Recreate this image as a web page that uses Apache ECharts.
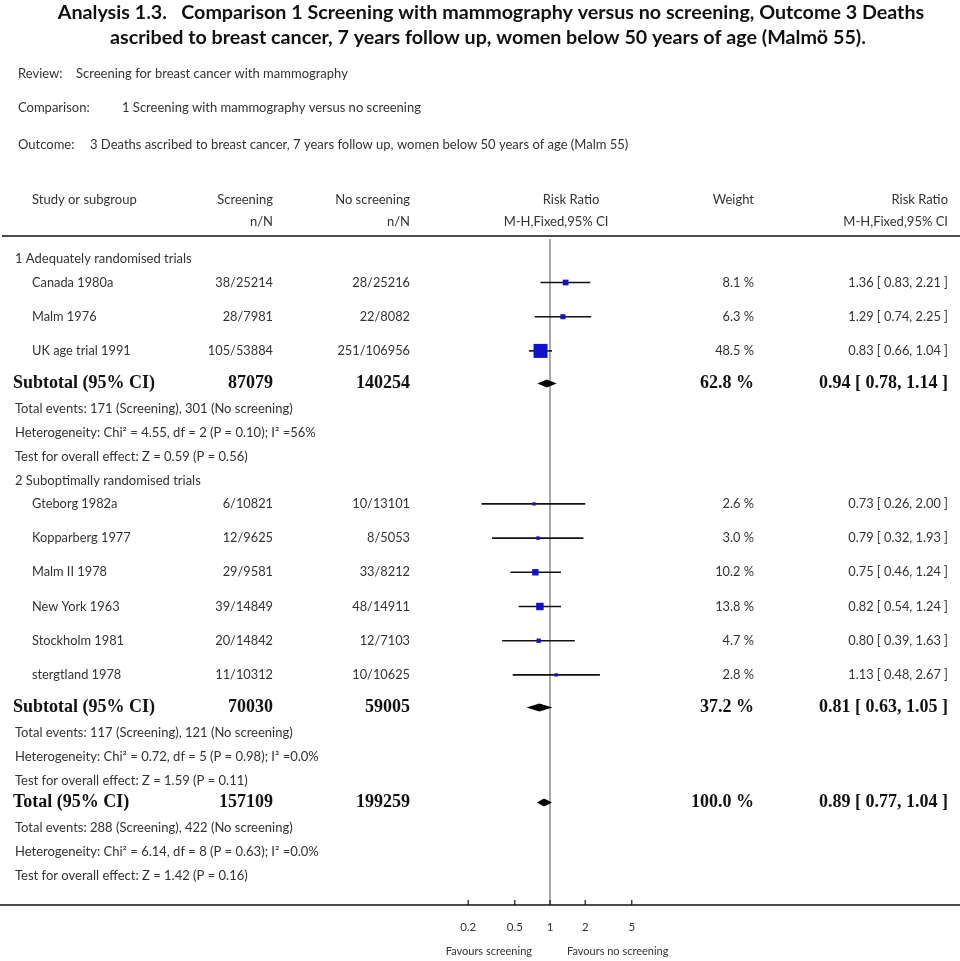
<!DOCTYPE html>
<html>
<head>
<meta charset="utf-8">
<script src="https://cdn.jsdelivr.net/npm/echarts@6/dist/echarts.min.js"></script>
<style>html,body{margin:0;padding:0;background:#fff}#c{width:960px;height:961px}</style>
</head>
<body>
<div id="c"></div>
<script>
// ---------- DATA ----------
const titleLines = [
  'Analysis 1.3.   Comparison 1 Screening with mammography versus no screening, Outcome 3 Deaths',
  'ascribed to breast cancer, 7 years follow up, women below 50 years of age (Malmö 55).'
];
const metaLabels = ['Review:', 'Comparison:', 'Outcome:'];
const metaValues = [
  'Screening for breast cancer with mammography',
  '1 Screening with mammography versus no screening',
  '3 Deaths ascribed to breast cancer, 7 years follow up, women below 50 years of age (Malm 55)'
];
const groupLabels = ['1 Adequately randomised trials', '2 Suboptimally randomised trials'];
const studyNames = ['Canada 1980a', 'Malm 1976', 'UK age trial 1991', 'Gteborg 1982a', 'Kopparberg 1977',
  'Malm II 1978', 'New York 1963', 'Stockholm 1981', 'stergtland 1978'];
const studyGroup = [0, 0, 0, 1, 1, 1, 1, 1, 1];
const scrEvents = [38, 28, 105, 6, 12, 29, 39, 20, 11];
const scrTotal = [25214, 7981, 53884, 10821, 9625, 9581, 14849, 14842, 10312];
const ctlEvents = [28, 22, 251, 10, 8, 33, 48, 12, 10];
const ctlTotal = [25216, 8082, 106956, 13101, 5053, 8212, 14911, 7103, 10625];
const weights = [8.1, 6.3, 48.5, 2.6, 3.0, 10.2, 13.8, 4.7, 2.8];
const rr = [1.36, 1.29, 0.83, 0.73, 0.79, 0.75, 0.82, 0.80, 1.13];
const rrLo = [0.83, 0.74, 0.66, 0.26, 0.32, 0.46, 0.54, 0.39, 0.48];
const rrHi = [2.21, 2.25, 1.04, 2.00, 1.93, 1.24, 1.24, 1.63, 2.67];

const subScrN = [87079, 70030];
const subCtlN = [140254, 59005];
const subWeight = [62.8, 37.2];
const subRR = [0.94, 0.81];
const subLo = [0.78, 0.63];
const subHi = [1.14, 1.05];
const subEvScr = [171, 117];
const subEvCtl = [301, 121];
const subChi2 = [4.55, 0.72];
const subDf = [2, 5];
const subP = [0.10, 0.98];
const subI2 = ['56%', '0.0%'];
const subZ = [0.59, 1.59];
const subPz = [0.56, 0.11];

const totScrN = 157109, totCtlN = 199259, totWeight = 100.0;
const totRR = 0.89, totLo = 0.77, totHi = 1.04;
const totEvScr = 288, totEvCtl = 422;
const totChi2 = 6.14, totDf = 8, totP = 0.63, totI2 = '0.0%', totZ = 1.42, totPz = 0.16;

const tickValues = [0.2, 0.5, 1, 2, 5];
const tickLabels = ['0.2', '0.5', '1', '2', '5'];
const favourLabels = ['Favours screening', 'Favours no screening'];

// ---------- LAYOUT / STYLE ----------
const F = '12.8px Lato';
const FS = '13px Lato';
const FM = '13px Lato';
const FH = '13px Lato';
const FB = 'bold 18px "Liberation Serif"';
const FT = 'bold 19.7px Lato';
const TXT = '#333';
const COL = {name: 32, grp: 15, scr: 273, ctl: 410, w: 754, rr: 948};
const AXIS_Y = 905;
const gaps = {first: 23.5, study: 34.2, sub: 32.5, ev: 25.5, het: 23.5, test: 24, grp: 24, tot: 22};

const texts = [];
function T(x, y, s, font, align, fill) {
  texts.push({type: 'text', x: x, y: y, silent: true,
    style: {text: s, font: font || F, fill: fill || TXT, align: align || 'left', verticalAlign: 'middle'}});
}
const f2 = v => v.toFixed(2);
const ci = (a, b, c) => f2(a) + ' [ ' + f2(b) + ', ' + f2(c) + ' ]';

// title + meta
T(491, 13, titleLines[0], FT, 'center', '#111');
T(488, 38, titleLines[1], FT, 'center', '#111');
const metaY = [74, 108, 145], metaX = [76, 122, 90];
metaLabels.forEach((l, i) => { T(18, metaY[i], l, FM); T(metaX[i], metaY[i], metaValues[i], FM); });

// header
T(COL.name, 200, 'Study or subgroup', FH);
T(COL.scr, 200, 'Screening', FH, 'right');
T(COL.scr, 222, 'n/N', FH, 'right');
T(COL.ctl, 200, 'No screening', FH, 'right');
T(COL.ctl, 222, 'n/N', FH, 'right');
T(571, 200, 'Risk Ratio', FH, 'center');
T(556, 222, 'M-H,Fixed,95% CI', FH, 'center');
T(COL.w, 200, 'Weight', FH, 'right');
T(COL.rr, 200, 'Risk Ratio', FH, 'right');
T(COL.rr, 222, 'M-H,Fixed,95% CI', FH, 'right');

const studyData = [];
const diamondData = [];
let y = 259;
function statRows(evS, evC, chi, df, p, i2, z, pz) {
  y += gaps.ev; T(COL.grp, y, 'Total events: ' + evS + ' (Screening), ' + evC + ' (No screening)', FS);
  y += gaps.het; T(COL.grp, y, 'Heterogeneity: Chi² = ' + f2(chi) + ', df = ' + df + ' (P = ' + f2(p) + '); I² =' + i2, FS);
  y += gaps.test; T(COL.grp, y, 'Test for overall effect: Z = ' + f2(z) + ' (P = ' + f2(pz) + ')', FS);
}
for (let g = 0; g < groupLabels.length; g++) {
  if (g > 0) y += gaps.grp;
  T(COL.grp, y, groupLabels[g], FS);
  let first = true;
  for (let i = 0; i < studyNames.length; i++) {
    if (studyGroup[i] !== g) continue;
    y += first ? gaps.first : gaps.study; first = false;
    T(COL.name, y, studyNames[i]);
    T(COL.scr, y, scrEvents[i] + '/' + scrTotal[i], F, 'right');
    T(COL.ctl, y, ctlEvents[i] + '/' + ctlTotal[i], F, 'right');
    T(COL.w, y, weights[i].toFixed(1) + ' %', F, 'right');
    T(COL.rr, y, ci(rr[i], rrLo[i], rrHi[i]), F, 'right');
    studyData.push([rr[i], y, rrLo[i], rrHi[i], weights[i]]);
  }
  y += gaps.sub;
  T(13, y, 'Subtotal (95% CI)', FB, 'left', '#111');
  T(COL.scr, y, String(subScrN[g]), FB, 'right', '#111');
  T(COL.ctl, y, String(subCtlN[g]), FB, 'right', '#111');
  T(COL.w, y, subWeight[g].toFixed(1) + ' %', FB, 'right', '#111');
  T(COL.rr, y, ci(subRR[g], subLo[g], subHi[g]), FB, 'right', '#111');
  diamondData.push([subRR[g], y, subLo[g], subHi[g]]);
  statRows(subEvScr[g], subEvCtl[g], subChi2[g], subDf[g], subP[g], subI2[g], subZ[g], subPz[g]);
}
y += gaps.tot;
T(13, y, 'Total (95% CI)', FB, 'left', '#111');
T(COL.scr, y, String(totScrN), FB, 'right', '#111');
T(COL.ctl, y, String(totCtlN), FB, 'right', '#111');
T(COL.w, y, totWeight.toFixed(1) + ' %', FB, 'right', '#111');
T(COL.rr, y, ci(totRR, totLo, totHi), FB, 'right', '#111');
diamondData.push([totRR, y, totLo, totHi]);
statRows(totEvScr, totEvCtl, totChi2, totDf, totP, totI2, totZ, totPz);

texts.push({type: 'line', silent: true, shape: {x1: 2, y1: 236, x2: 960, y2: 236},
  style: {stroke: '#111', lineWidth: 1.6}});

// ---------- CHART ----------
const PX_PER_DEC = 117, X_ONE = 550;
const chart = echarts.init(document.getElementById('c'), null, {renderer: 'canvas'});
chart.setOption({
  animation: false,
  backgroundColor: '#fff',
  grid: {left: 0, right: 0, top: 0, bottom: 961 - AXIS_Y},
  xAxis: {
    type: 'log', logBase: 10,
    min: Math.pow(10, -X_ONE / PX_PER_DEC), max: Math.pow(10, (960 - X_ONE) / PX_PER_DEC),
    axisLine: {show: true, onZero: false, lineStyle: {color: '#111', width: 1.6}},
    axisTick: {show: false}, axisLabel: {show: false}, splitLine: {show: false}
  },
  yAxis: {type: 'value', inverse: true, min: 0, max: AXIS_Y, show: false, splitLine: {show: false}},
  graphic: texts,
  series: [
    { // line of no effect
      type: 'custom', clip: false, silent: true, z: 1,
      data: [[1, 239, AXIS_Y]],
      renderItem: (p, api) => {
        const a = api.coord([api.value(0), api.value(1)]);
        const b = api.coord([api.value(0), api.value(2)]);
        return {type: 'line', shape: {x1: a[0], y1: a[1], x2: b[0], y2: b[1]}, style: {stroke: '#555', lineWidth: 1}};
      }
    },
    { // studies
      type: 'custom', clip: false, silent: true, z: 3,
      data: studyData,
      renderItem: (p, api) => {
        const yy = api.value(1);
        const c = api.coord([api.value(0), yy]);
        const l = api.coord([api.value(2), yy]);
        const h = api.coord([api.value(3), yy]);
        const s = Math.max(2, 14 * Math.sqrt(api.value(4) / 48.5));
        return {type: 'group', children: [
          {type: 'line', shape: {x1: l[0], y1: l[1], x2: h[0], y2: h[1]}, style: {stroke: '#111', lineWidth: 1.6}},
          {type: 'rect', shape: {x: c[0] - s / 2, y: c[1] - s / 2, width: s, height: s}, style: {fill: '#1212cc'}}
        ]};
      }
    },
    { // pooled diamonds
      type: 'custom', clip: false, silent: true, z: 3,
      data: diamondData,
      renderItem: (p, api) => {
        const yy = api.value(1);
        const c = api.coord([api.value(0), yy]);
        const l = api.coord([api.value(2), yy]);
        const h = api.coord([api.value(3), yy]);
        return {type: 'polygon', shape: {points: [[l[0], l[1]], [c[0], c[1] - 4], [h[0], h[1]], [c[0], c[1] + 4]]},
          style: {fill: '#000'}};
      }
    },
    { // axis ticks and labels
      type: 'custom', clip: false, silent: true, z: 3,
      data: tickValues.map((v, i) => [v, AXIS_Y, i]),
      renderItem: (p, api) => {
        const c = api.coord([api.value(0), api.value(1)]);
        return {type: 'group', children: [
          {type: 'line', shape: {x1: c[0], y1: c[1], x2: c[0], y2: c[1] - 5}, style: {stroke: '#111', lineWidth: 1.2}},
          {type: 'text', x: c[0], y: c[1] + 22, style: {text: tickLabels[api.value(2)], font: '11.5px Lato', fill: TXT, align: 'center', verticalAlign: 'middle'}}
        ]};
      }
    },
    { // favours labels
      type: 'custom', clip: false, silent: true, z: 3,
      data: [[1, AXIS_Y]],
      renderItem: (p, api) => {
        const c = api.coord([api.value(0), api.value(1)]);
        return {type: 'group', children: [
          {type: 'text', x: c[0] - 18, y: c[1] + 46, style: {text: favourLabels[0], font: '11px Lato', fill: TXT, align: 'right', verticalAlign: 'middle'}},
          {type: 'text', x: c[0] + 17, y: c[1] + 46, style: {text: favourLabels[1], font: '11px Lato', fill: TXT, align: 'left', verticalAlign: 'middle'}}
        ]};
      }
    }
  ]
});
</script>
</body>
</html>
